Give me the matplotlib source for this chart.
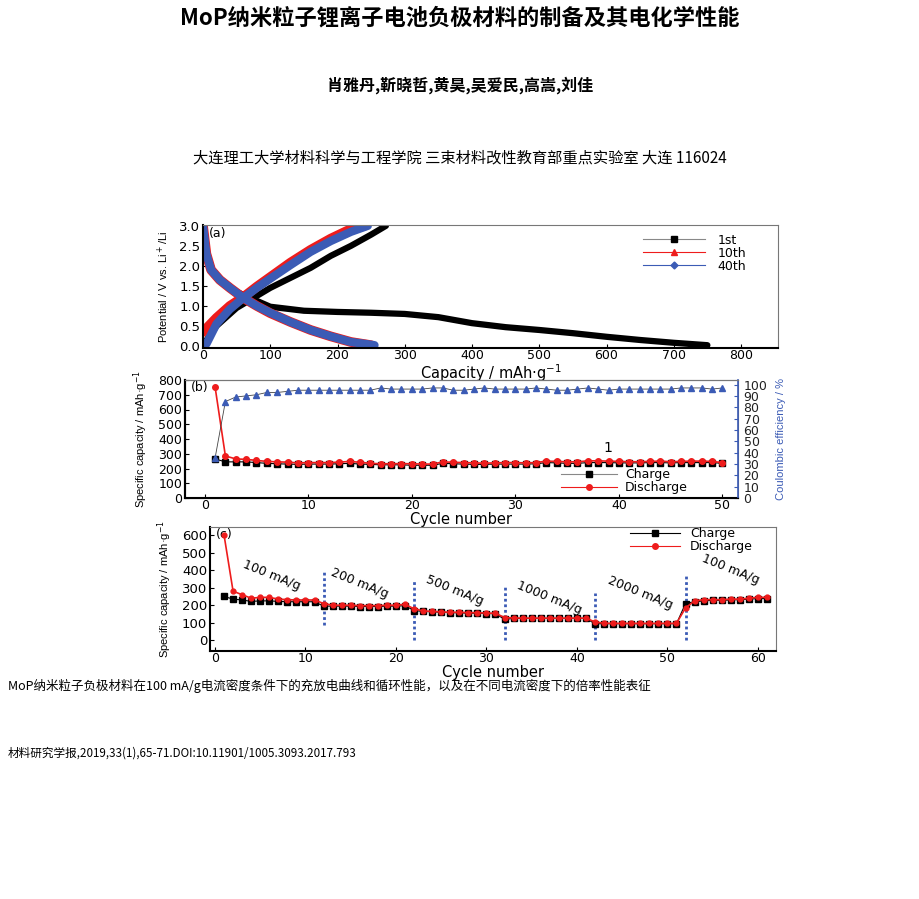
import matplotlib
matplotlib.use("Agg")
import matplotlib.pyplot as plt
import numpy as np
from matplotlib import font_manager

plt.rcParams['font.family'] = ['DejaVu Sans', 'Noto Sans CJK SC']
CJK = ['Noto Sans CJK SC', 'DejaVu Sans']
_names = {f.name for f in font_manager.fontManager.ttflist}
NARROW = ['Liberation Sans Narrow', 'DejaVu Sans'] if 'Liberation Sans Narrow' in _names else ['Liberation Sans', 'DejaVu Sans']

# ---------------- texts ----------------
title = "MoP纳米粒子锂离子电池负极材料的制备及其电化学性能"
authors = "肖雅丹,靳晓哲,黄昊,吴爱民,高嵩,刘佳"
affil = "大连理工大学材料科学与工程学院 三束材料改性教育部重点实验室 大连 116024"
caption = "MoP纳米粒子负极材料在100 mA/g电流密度条件下的充放电曲线和循环性能，以及在不同电流密度下的倍率性能表征"
reference = "材料研究学报,2019,33(1),65-71.DOI:10.11901/1005.3093.2017.793"

# ---------------- panel (a) data ----------------
a_labels = ["1st", "10th", "40th"]
a1_dis_cap = [0, 5, 15, 30, 50, 70, 100, 150, 200, 250, 300, 350, 400, 450, 500, 550, 600, 650, 700, 750]
a1_dis_v = [3.0, 2.3, 1.85, 1.6, 1.35, 1.2, 0.98, 0.88, 0.85, 0.83, 0.8, 0.72, 0.57, 0.47, 0.4, 0.32, 0.23, 0.15, 0.08, 0.02]
a1_chg_cap = [0, 20, 50, 75, 100, 130, 160, 190, 220, 250, 272]
a1_chg_v = [0.02, 0.5, 0.95, 1.2, 1.45, 1.7, 1.95, 2.25, 2.5, 2.78, 3.0]
a10_dis_cap = [0, 5, 12, 25, 40, 60, 80, 100, 130, 160, 190, 220, 250]
a10_dis_v = [3.0, 2.3, 1.9, 1.65, 1.45, 1.2, 1.0, 0.82, 0.6, 0.4, 0.24, 0.1, 0.02]
a10_chg_cap = [0, 20, 40, 60, 80, 100, 130, 160, 190, 215, 240]
a10_chg_v = [0.35, 0.7, 1.0, 1.22, 1.48, 1.72, 2.08, 2.4, 2.68, 2.88, 3.0]
a40_dis_cap = [0, 5, 12, 25, 40, 60, 80, 100, 130, 160, 190, 220, 255]
a40_dis_v = [3.0, 2.3, 1.9, 1.65, 1.45, 1.2, 1.0, 0.83, 0.6, 0.4, 0.24, 0.1, 0.02]
a40_chg_cap = [5, 20, 40, 60, 80, 100, 130, 160, 190, 220, 245]
a40_chg_v = [0.05, 0.55, 0.92, 1.2, 1.45, 1.68, 2.02, 2.35, 2.62, 2.85, 3.0]

# ---------------- panel (b) data ----------------
b_cycles = list(range(1, 51))
b_charge = [265, 245, 245, 245, 240, 235, 232, 230, 228, 230, 230, 230, 232, 235, 230, 228, 225, 225, 225, 222,
            222, 222, 235, 232, 230, 228, 228, 230, 230, 230, 230, 232, 240, 238, 235, 235, 240, 240, 240, 238,
            238, 238, 240, 240, 238, 240, 240, 240, 240, 235]
b_discharge = [755, 285, 265, 262, 255, 248, 245, 243, 238, 240, 240, 240, 243, 248, 242, 235, 232, 232, 233, 232,
               230, 230, 245, 242, 240, 238, 236, 238, 240, 240, 238, 240, 250, 248, 245, 245, 252, 252, 250, 248,
               246, 246, 248, 250, 246, 248, 250, 250, 248, 240]
b_ce = [35, 85, 89, 90, 91, 93, 93, 94, 95, 95, 95, 95, 95, 95, 95, 95, 97, 96, 96, 96,
        96, 97, 97, 95, 95, 96, 97, 96, 96, 96, 96, 97, 96, 95, 95, 96, 97, 96, 95, 96,
        96, 96, 96, 96, 96, 97, 97, 97, 96, 97]

# ---------------- panel (c) data ----------------
c_cycles = list(range(1, 62))
c_charge = [250, 235, 230, 222, 225, 225, 222, 220, 220, 220, 220,
            195, 195, 195, 195, 193, 193, 193, 195, 195, 198,
            170, 165, 163, 160, 158, 157, 155, 155, 153, 152,
            120, 125, 125, 125, 125, 125, 125, 125, 125, 125,
            95, 95, 95, 95, 95, 95, 95, 95, 95, 95,
            210, 220, 225, 228, 228, 230, 232, 235, 238, 238]
c_discharge = [600, 280, 260, 240, 245, 245, 235, 232, 230, 230, 230,
               210, 200, 200, 200, 198, 198, 198, 200, 200, 205,
               180, 168, 165, 163, 160, 160, 158, 158, 155, 155,
               130, 128, 127, 127, 127, 127, 127, 127, 127, 127,
               105, 98, 97, 97, 97, 97, 97, 97, 97, 97,
               185, 225, 232, 232, 232, 235, 235, 240, 245, 245]
c_rate_labels = ["100 mA/g", "200 mA/g", "500 mA/g", "1000 mA/g", "2000 mA/g", "100 mA/g"]
c_rate_x = [6.3, 16.0, 26.5, 37.0, 47.0, 57.0]
c_rate_y = [370, 325, 285, 245, 268, 405]
c_div_x = [12, 22, 32, 42, 52]
c_div_ylo = [86, 0, 0, 0, 0]
c_div_yhi = [400, 343, 303, 268, 371]

BLUE = '#3b5bb5'
RED = '#ee1c1c'
TICKFS = 9.5
LEGFS = 9
XLFS = 10.5
YLFS = 8

fig = plt.figure(figsize=(9.2, 8.99), dpi=100)

fig.text(0.5, 1 - 18 / 899, title, ha='center', va='center', fontsize=16, fontweight='bold', family=CJK)
fig.text(0.5, 1 - 85 / 899, authors, ha='center', va='center', fontsize=11.5, fontweight='bold', family=CJK)
fig.text(0.5, 1 - 158 / 899, affil, ha='center', va='center', fontsize=11, family=CJK)
fig.text(8 / 920, 1 - 686 / 899, caption, ha='left', va='center', fontsize=9, family=CJK)
fig.text(8 / 920, 1 - 753 / 899, reference, ha='left', va='center', fontsize=8.4, family=CJK)


def style(ax):
    ax.tick_params(direction='in', labelsize=TICKFS, length=3, width=0.8)
    ax.tick_params(axis='x', pad=1, labelsize=9)
    ax.tick_params(axis='y', pad=2)
    for s in ['left', 'bottom']:
        ax.spines[s].set_linewidth(1.5)
    for s in ['top', 'right']:
        ax.spines[s].set_color('#777777')
        ax.spines[s].set_linewidth(0.8)


# ---------------- (a) ----------------
axa = fig.add_axes([203 / 920, 1 - 348 / 899, 575 / 920, 123 / 899])
lw = 4.5
axa.plot(a1_dis_cap, a1_dis_v, color='black', lw=lw, solid_capstyle='round')
axa.plot(a1_chg_cap, a1_chg_v, color='black', lw=lw, solid_capstyle='round')
axa.plot(a10_dis_cap, a10_dis_v, color=RED, lw=lw + 2.5, solid_capstyle='round')
axa.plot(a10_chg_cap, a10_chg_v, color=RED, lw=lw + 2.5, solid_capstyle='round')
axa.plot(a40_dis_cap, a40_dis_v, color=BLUE, lw=lw + 1.5, solid_capstyle='round')
axa.plot(a40_chg_cap, a40_chg_v, color=BLUE, lw=lw + 1.5, solid_capstyle='round')
axa.set_xlim(0, 855)
axa.set_ylim(-0.05, 3.02)
axa.set_xticks(range(0, 801, 100))
axa.set_yticks(np.arange(0, 3.01, 0.5))
axa.set_yticklabels([f"{v:.1f}" for v in np.arange(0, 3.01, 0.5)])
axa.set_xlabel("Capacity / mAh·g$^{-1}$", fontsize=XLFS, labelpad=0)
axa.set_ylabel("Potential / V vs. Li$^+$/Li", fontsize=YLFS, labelpad=6, family=NARROW)
axa.text(0.01, 0.985, "(a)", transform=axa.transAxes, fontsize=9, va='top')
style(axa)
ha = [plt.Line2D([], [], color='#888888', lw=0.8, marker='s', mfc='black', mec='black', ms=5),
      plt.Line2D([], [], color=RED, lw=0.8, marker='^', mfc=RED, mec=RED, ms=4),
      plt.Line2D([], [], color=BLUE, lw=0.8, marker='D', mfc=BLUE, mec=BLUE, ms=3.5)]
axa.legend(ha, a_labels, loc='upper right', bbox_to_anchor=(0.96, 1.0), frameon=False, fontsize=LEGFS,
           handlelength=5, labelspacing=0.0, borderpad=0.2, handletextpad=1.0)

# ---------------- (b) ----------------
axb = fig.add_axes([185 / 920, 1 - 498 / 899, 553 / 920, 118 / 899])
axb2 = axb.twinx()
axb.plot(b_cycles, b_charge, color='black', lw=0.8, marker='s', ms=4, mfc='black', mec='black', zorder=3)
axb.plot(b_cycles, b_discharge, color=RED, lw=1.2, marker='o', ms=4, mfc=RED, mec=RED, zorder=4)
axb2.plot(b_cycles, b_ce, color='#444444', lw=0.6, marker='^', ms=4.5, mfc=BLUE, mec=BLUE)
axb.set_xlim(-1.9, 51.5)
axb.set_ylim(0, 800)
axb2.set_ylim(0, 104)
axb.set_xticks(range(0, 51, 10))
axb.set_yticks(range(0, 801, 100))
axb2.set_yticks(range(0, 101, 10))
axb.set_xlabel("Cycle number", fontsize=XLFS, labelpad=0)
axb.set_ylabel("Specific capacity / mAh·g$^{-1}$", fontsize=YLFS, labelpad=6, family=NARROW)
axb2.set_ylabel("Coulombic efficiency / %", fontsize=YLFS, color=BLUE, labelpad=6, family=NARROW)
axb.text(0.01, 0.995, "(b)", transform=axb.transAxes, fontsize=9, va='top', ha='left')
axb.text(38.5, 310, "1", fontsize=10)
style(axb)
axb.tick_params(axis='y', labelsize=9)
axb2.tick_params(direction='in', labelsize=9, length=3, width=0.8, pad=4)
axb2.spines['right'].set_color(BLUE)
axb2.spines['right'].set_linewidth(1.2)
axb2.spines['left'].set_linewidth(1.5)
axb2.spines['top'].set_color('#777777')
axb2.tick_params(axis='y', colors=BLUE, labelcolor='#222222')
hb = [plt.Line2D([], [], color='#888888', lw=0.8, marker='s', mfc='black', mec='black', ms=5),
      plt.Line2D([], [], color=RED, lw=0.8, marker='o', mfc=RED, mec=RED, ms=4)]
axb.legend(hb, ["Charge", "Discharge"], loc='lower right', bbox_to_anchor=(0.925, -0.04), frameon=False,
           fontsize=LEGFS, handlelength=4.5, labelspacing=0.0, borderpad=0.2, handletextpad=0.6)

# ---------------- (c) ----------------
axc = fig.add_axes([210 / 920, 1 - 651 / 899, 566 / 920, 124 / 899])
axc.plot(c_cycles, c_charge, color='black', lw=0.8, marker='s', ms=4, mfc='black', mec='black', zorder=3)
axc.plot(c_cycles, c_discharge, color=RED, lw=1.2, marker='o', ms=3.5, mfc=RED, mec=RED, zorder=4)
for x, lo, hi in zip(c_div_x, c_div_ylo, c_div_yhi):
    axc.plot([x, x], [lo, hi], color=BLUE, lw=2, ls=(0, (1, 1)), zorder=2)
for lab, x, y in zip(c_rate_labels, c_rate_x, c_rate_y):
    axc.text(x, y, lab, fontsize=9, rotation=-22, ha='center', va='center', rotation_mode='anchor')
axc.set_xlim(-0.55, 62)
axc.set_ylim(-60, 645)
axc.set_xticks(range(0, 61, 10))
axc.set_yticks(range(0, 601, 100))
axc.set_xlabel("Cycle number", fontsize=XLFS, labelpad=0)
axc.set_ylabel("Specific capacity / mAh·g$^{-1}$", fontsize=YLFS, labelpad=6, family=NARROW)
axc.text(0.01, 0.99, "(c)", transform=axc.transAxes, fontsize=9, va='top')
style(axc)
hc = [plt.Line2D([], [], color='black', lw=0.8, marker='s', mfc='black', mec='black', ms=5),
      plt.Line2D([], [], color=RED, lw=0.8, marker='o', mfc=RED, mec=RED, ms=4)]
axc.legend(hc, ["Charge", "Discharge"], loc='upper right', bbox_to_anchor=(0.975, 1.07), frameon=False,
           fontsize=LEGFS, handlelength=4.0, labelspacing=0.0, borderpad=0.2, handletextpad=0.8)

fig.savefig("out.png", dpi=100)
